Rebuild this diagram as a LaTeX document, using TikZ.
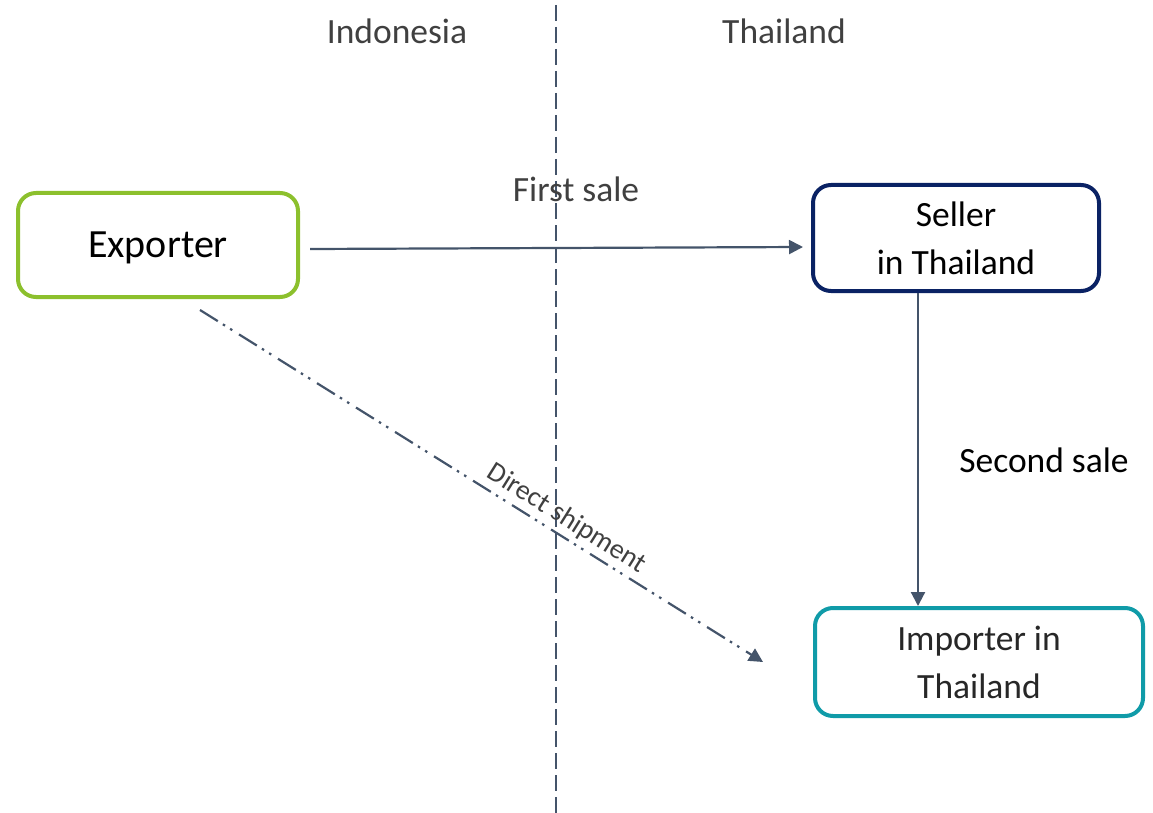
\documentclass[tikz,border=0pt]{standalone}
\usepackage{fontspec}
\setmainfont{Carlito}
\usetikzlibrary{arrows.meta}
\definecolor{expgreen}{RGB}{140,192,45}
\definecolor{sellnavy}{RGB}{10,34,100}
\definecolor{impteal}{RGB}{16,155,168}
\definecolor{slate}{RGB}{68,84,106}
\definecolor{txtgray}{RGB}{64,64,64}
\tikzset{
  party/.style={rectangle, rounded corners=18pt, line width=4pt, inner sep=0pt,
    align=center, font=\fontsize{35.5}{48}\selectfont, fill=white},
  flow/.style={draw=slate, line width=2.2pt, -{Triangle[length=14pt,width=14pt]}},
  region/.style={font=\fontsize{35.5}{40}\selectfont, text=txtgray},
  salelabel/.style={font=\fontsize{35.5}{40}\selectfont},
}
\begin{document}
\begin{tikzpicture}[x=1pt,y=-1pt]
\useasboundingbox (0,0) rectangle (1153,813);

% border between the two countries
\coordinate (btop) at (556,5);
\coordinate (bbot) at (556,813);
\draw[slate, line width=2pt, dash pattern=on 16pt off 6pt] (btop) -- (bbot);

% country headings
\node[region] (indo) at (397,31) {Indonesia};
\node[region] (thai) at (784,31) {Thailand};

% parties
\node[party, draw=expgreen, minimum width=280pt, minimum height=104pt, text depth=0pt,
  font=\fontsize{40}{48}\selectfont] (exporter) at (158,245) {Exporter};
\node[party, draw=sellnavy, minimum width=286pt, minimum height=106pt] (seller) at (956,238) {Seller\\in Thailand};
\node[party, draw=impteal, minimum width=328pt, minimum height=108pt, text=txtgray!60!black] (importer) at (979,662) {Importer in\\Thailand};

% first sale
\draw[flow] ([xshift=10pt,yshift=-4pt]exporter.east) -- ([xshift=-8pt,yshift=-9pt]seller.west);
\node[salelabel, text=txtgray] (first) at (576,189) {First sale};

% second sale
\draw[flow] ([xshift=-38pt]seller.south) -- ([xshift=-38pt]seller.south |- importer.north);
\node[salelabel] (second) at (1044,460) {Second sale};

% direct shipment
\draw[flow, dash pattern=on 21pt off 6pt on 2.5pt off 6pt on 2.5pt off 8pt]
  ([xshift=42pt,yshift=-11pt]exporter.south) -- ([xshift=-50pt]importer.west)
  node[sloped, above=1pt, pos=0.635, font=\fontsize{28}{30}\selectfont, text=txtgray] (direct) {Direct shipment};
\end{tikzpicture}
\end{document}
